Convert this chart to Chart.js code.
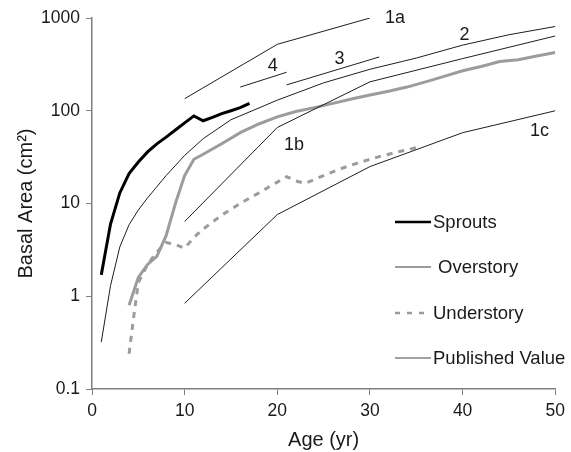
<!DOCTYPE html>
<html>
<head>
<meta charset="utf-8">
<script src="https://cdn.jsdelivr.net/npm/chart.js@4/dist/chart.umd.min.js"></script>
<style>
  html, body { margin: 0; padding: 0; background: #fff; }
  #wrap { width: 571px; height: 452px; }
</style>
</head>
<body>
<div id="wrap"><canvas id="baChart" width="571" height="452"></canvas></div>
<script>
// measured series (age in yr, basal area in cm2)
const sproutAge = [1, 2, 3, 4, 5, 6, 7, 8, 9, 10, 11, 12, 13, 14, 15, 16, 17];
const sproutBA = [1.7, 6, 13, 21, 28, 36, 44, 52, 62, 74, 88, 78, 85, 93, 100, 108, 120];

const overAge = [4, 5, 6, 7, 8, 9, 10, 11, 12, 14, 16, 18, 20, 22, 24, 26, 28, 30, 32, 34, 36, 38, 40, 42, 44, 46, 48, 50];
const overBA = [0.8, 1.6, 2.2, 2.7, 4.5, 10, 20, 30, 34, 44, 58, 72, 86, 98, 108, 120, 134, 148, 162, 180, 205, 235, 270, 300, 340, 355, 390, 425];

const underAge = [4, 4.5, 5, 6, 7, 8, 9, 10, 11, 12, 14, 16, 18, 20, 21, 22, 23, 25, 27, 29, 31, 33, 35.5];
const underBA = [0.24, 0.6, 1.4, 2.2, 3.0, 3.8, 3.6, 3.3, 4.3, 5.3, 7.5, 10, 13, 17, 19.5, 17.5, 16.5, 20, 24, 28, 32, 36, 41];

// published curves
const pub1aAge = [10, 20, 30];
const pub1a = [135, 520, 1000];
const pub4Age = [16, 21];
const pub4 = [180, 260];
const pub3Age = [21, 31];
const pub3 = [190, 380];
const pub2Age = [1, 2, 3, 4, 5, 6, 8, 10, 12, 15, 20, 25, 30, 35, 40, 45, 50];
const pub2 = [0.32, 1.3, 3.4, 5.9, 8.5, 11.5, 20, 33, 50, 80, 130, 200, 280, 370, 510, 660, 810];
const pub1bAge = [10, 20, 30, 40, 50];
const pub1b = [6.4, 66, 205, 365, 640];
const pub1cAge = [10, 20, 30, 40, 50];
const pub1c = [0.84, 7.6, 25, 58, 100];

// curve labels: text, age, basal area where the label sits
const curveLabels = ['1a', '2', '4', '3', '1b', '1c'];
const labelAge = [32.7, 40.2, 19.5, 26.7, 21.8, 48.3];
const labelBA = [1000, 650, 300, 360, 43, 60];

const yTicks = [0.1, 1, 10, 100, 1000];
const xTicks = [0, 10, 20, 30, 40, 50];

const legendNames = ['Sprouts', 'Overstory', 'Understory', 'Published Value'];

const FONT = "'Liberation Sans', Arial, sans-serif";
const AXIS_GRAY = '#7f7f7f';
const SERIES_GRAY = '#9c9c9c';

function pts(xs, ys) {
  return xs.map((x, i) => ({ x: x, y: ys[i] }));
}

function pubSet(xs, ys) {
  return {
    data: pts(xs, ys),
    borderColor: '#1e1e1e',
    borderWidth: 1,
    pointRadius: 0,
    tension: 0,
    fill: false,
  };
}

const datasets = [
  pubSet(pub1aAge, pub1a),
  pubSet(pub4Age, pub4),
  pubSet(pub3Age, pub3),
  pubSet(pub2Age, pub2),
  pubSet(pub1bAge, pub1b),
  pubSet(pub1cAge, pub1c),
  {
    data: pts(underAge, underBA),
    borderColor: SERIES_GRAY,
    borderWidth: 3,
    borderDash: [6, 6],
    pointRadius: 0,
    tension: 0,
  },
  {
    data: pts(overAge, overBA),
    borderColor: SERIES_GRAY,
    borderWidth: 3,
    pointRadius: 0,
    tension: 0,
  },
  {
    data: pts(sproutAge, sproutBA),
    borderColor: '#000',
    borderWidth: 3,
    pointRadius: 0,
    tension: 0,
  },
];

// draws curve labels and the in-plot legend
const overlayPlugin = {
  id: 'overlay',
  afterDraw(chart) {
    const ctx = chart.ctx;
    const xs = chart.scales.x;
    const ys = chart.scales.y;
    ctx.save();
    ctx.fillStyle = '#1a1a1a';
    ctx.font = '18px ' + FONT;
    ctx.textAlign = 'center';
    ctx.textBaseline = 'middle';
    curveLabels.forEach((t, i) => {
      ctx.fillText(t, xs.getPixelForValue(labelAge[i]), ys.getPixelForValue(labelBA[i]));
    });

    // legend
    const lx0 = 395, lx1 = 431;
    const rows = [222, 267, 313, 358];
    const styles = [
      { color: '#000', width: 2.5, dash: [] },
      { color: SERIES_GRAY, width: 2, dash: [] },
      { color: SERIES_GRAY, width: 2.5, dash: [5, 7] },
      { color: '#444', width: 1.2, dash: [] },
    ];
    ctx.font = '18.5px ' + FONT;
    ctx.textAlign = 'left';
    legendNames.forEach((name, i) => {
      const s = styles[i];
      ctx.beginPath();
      ctx.setLineDash(s.dash);
      ctx.strokeStyle = s.color;
      ctx.lineWidth = s.width;
      ctx.moveTo(lx0, rows[i]);
      ctx.lineTo(lx1, rows[i]);
      ctx.stroke();
      ctx.setLineDash([]);
      ctx.fillText(name, i === 1 ? 438 : 433, rows[i] + 1);
    });
    ctx.restore();
  }
};

new Chart(document.getElementById('baChart').getContext('2d'), {
  type: 'line',
  data: { datasets: datasets },
  plugins: [overlayPlugin],
  options: {
    responsive: false,
    animation: false,
    layout: { padding: { top: 18, right: 15, left: 0, bottom: 0 } },
    plugins: { legend: { display: false }, tooltip: { enabled: false } },
    scales: {
      x: {
        type: 'linear',
        min: 0,
        max: 50,
        afterFit: (s) => { s.height = 63; },
        afterBuildTicks: (s) => { s.ticks = xTicks.map(v => ({ value: v })); },
        grid: { drawOnChartArea: false, color: AXIS_GRAY, tickLength: 6 },
        border: { color: AXIS_GRAY, width: 1.5 },
        ticks: { color: '#1a1a1a', font: { family: FONT, size: 17.5 }, padding: 6, maxRotation: 0 },
        title: { display: true, text: 'Age (yr)', color: '#1a1a1a', font: { family: FONT, size: 20 }, padding: { top: 0, bottom: 0 } },
      },
      y: {
        type: 'logarithmic',
        min: 0.1,
        max: 1000,
        afterFit: (s) => { s.width = 92; },
        afterBuildTicks: (s) => { s.ticks = yTicks.map(v => ({ value: v })); },
        grid: { drawOnChartArea: false, color: AXIS_GRAY, tickLength: 6 },
        border: { color: AXIS_GRAY, width: 1.5 },
        ticks: {
          color: '#1a1a1a',
          font: { family: FONT, size: 17.5 },
          padding: 6,
          callback: (v) => String(v),
        },
        title: { display: true, text: 'Basal Area (cm²)', color: '#1a1a1a', font: { family: FONT, size: 20 }, padding: { top: 14, bottom: 0 } },
      }
    }
  }
});
</script>
</body>
</html>
